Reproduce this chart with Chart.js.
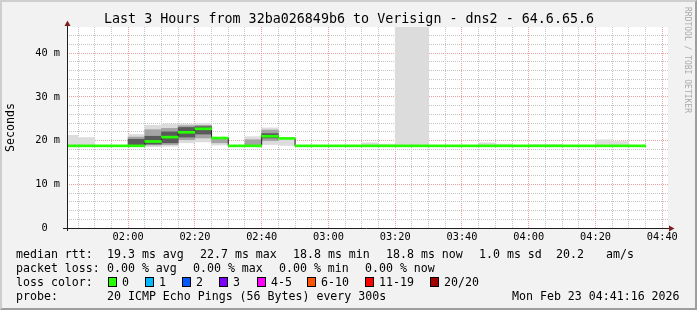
<!DOCTYPE html>
<html>
<head>
<meta charset="utf-8">
<script src="https://cdn.jsdelivr.net/npm/chart.js@4.4.1/dist/chart.umd.min.js"></script>
<style>
  html, body { margin: 0; padding: 0; }
  body {
    width: 697px; height: 310px; position: relative; overflow: hidden;
    background: #f2f2f2; color: #000;
    font-family: 'DejaVu Sans Mono', monospace;
  }
  #chart { position: absolute; left: 0; top: 0; }
  .shade {
    position: absolute; left: 0; top: 0; width: 697px; height: 310px; box-sizing: border-box;
    border-left: 2px solid #cecece; border-top: 2px solid #cecece;
    border-right: 2px solid #9e9e9e; border-bottom: 2px solid #9e9e9e;
    pointer-events: none;
  }
  .title { position: absolute; left: 104px; top: 10.7px; font-size: 13.35px; line-height: 16px; white-space: pre; }
  .mark {
    position: absolute; left: 682px; top: 7px; font-size: 8px; line-height: 10px;
    writing-mode: vertical-rl; color: #ababab; white-space: pre;
  }
  .t { position: absolute; font-size: 11.6px; line-height: 14px; white-space: pre; }
  .r1 { top: 246.5px; } .r2 { top: 260.7px; } .r3 { top: 274.8px; } .r4 { top: 289px; }
  .box { position: absolute; top: 277px; width: 9px; height: 10px; box-sizing: border-box; border: 1px solid #000; }
</style>
</head>
<body>
<canvas id="chart" width="697" height="310"></canvas>
<div class="title">Last 3 Hours from 32ba026849b6 to Verisign - dns2 - 64.6.65.6</div>
<div class="mark">RRDTOOL / TOBI OETIKER</div>

<div class="t r1" style="left:16px">median rtt:</div>
<div class="t r1" style="left:107px">19.3 ms avg</div>
<div class="t r1" style="left:200px">22.7 ms max</div>
<div class="t r1" style="left:293px">18.8 ms min</div>
<div class="t r1" style="left:386px">18.8 ms now</div>
<div class="t r1" style="left:479px">1.0 ms sd</div>
<div class="t r1" style="left:556px">20.2</div>
<div class="t r1" style="left:606px">am/s</div>

<div class="t r2" style="left:16px">packet loss:</div>
<div class="t r2" style="left:107px">0.00 % avg</div>
<div class="t r2" style="left:193px">0.00 % max</div>
<div class="t r2" style="left:279px">0.00 % min</div>
<div class="t r2" style="left:365px">0.00 % now</div>

<div class="t r3" style="left:16px">loss color:</div>
<div id="lossLegend"></div>

<div class="t r4" style="left:16px">probe:</div>
<div class="t r4" style="left:107px">20 ICMP Echo Pings (56 Bytes) every 300s</div>
<div class="t r4" style="left:512px">Mon Feb 23 04:41:16 2026</div>
<div class="shade"></div>

<script>
// 5 minute bins, start time of each bin
const binTimes = ['01:40','01:45','01:50','01:55','02:00','02:05','02:10','02:15','02:20','02:25',
                  '02:30','02:35','02:40','02:45','02:50','02:55','03:00','03:05','03:10','03:15',
                  '03:20','03:25','03:30','03:35','03:40','03:45','03:50','03:55','04:00','04:05',
                  '04:10','04:15','04:20','04:25','04:30'];

// median rtt in ms
const medianRtt = [18.8, 18.8, 18.8, 18.8, 18.8, 19.8, 20.8, 21.9, 22.7, 20.6,
                   18.8, 18.8, 21.0, 20.5, 18.8, 18.8, 18.8, 18.8, 18.8, 18.8,
                   18.8, 18.8, 18.8, 18.8, 18.8, 18.8, 18.8, 18.8, 18.8, 18.8,
                   18.8, 18.8, 18.8, 18.8, 18.8];

// smoke: spread of the 20 pings (outer = all, mid, inner = closest to median)
const smokeOuter = [[18.8, 21.2], [18.8, 20.7], null, null, [18.8, 21.4], [18.6, 23.5], [18.7, 23.8], [19.5, 23.8], [19.7, 23.9], [19.0, 20.7],
                    null, [18.8, 20.9], [19.1, 22.9], [18.9, 20.5], null, null, null, null, [18.8, 19.5], [18.8, 19.2],
                    [18.8, 46], [18.8, 46], null, null, null, [18.8, 19.5], [18.8, 19.2], null, [18.8, 19.1], [18.8, 19.1],
                    null, null, [18.8, 20.2], [18.8, 19.8], null];
const smokeMid = [null, null, null, null, [18.9, 20.8], [19.0, 22.5], [19.1, 22.8], [20.2, 23.4], [20.6, 23.5], [19.5, 20.6],
                  null, [18.9, 20.2], [20.0, 22.4], null];
const smokeInner = [null, null, null, null, [19.0, 20.3], [19.2, 21.0], [19.5, 22.0], [20.8, 23.0], [21.5, 23.2], null,
                    null, null, [20.6, 21.6], null];

// axis
const timeTicks = ['02:00','02:20','02:40','03:00','03:20','03:40','04:00','04:20','04:40'];
const rttTicks = [0, 10, 20, 30, 40];
const viewStart = 101.7;  // 01:41:43
const viewEnd = 281.7;    // 04:41:43

// loss legend
const lossLabels = ['0', '1', '2', '3', '4-5', '6-10', '11-19', '20/20'];
const lossColors = ['#26ff00', '#00b8ff', '#0059ff', '#7e00ff', '#ff00ff', '#ff5500', '#ff0000', '#a10000'];
const lossBoxX = [108, 145, 182, 219, 257, 307, 365, 430];

const toMin = s => { const [h, m] = s.split(':').map(Number); return h * 60 + m; };
const fmtMin = v => String(Math.floor(v / 60)).padStart(2, '0') + ':' + String(v % 60).padStart(2, '0');

const lossLegend = document.getElementById('lossLegend');
lossLabels.forEach((lbl, i) => {
    const b = document.createElement('div');
    b.className = 'box';
    b.style.left = lossBoxX[i] + 'px';
    b.style.background = lossColors[i];
    lossLegend.appendChild(b);
    const t = document.createElement('div');
    t.className = 't r3';
    t.style.left = (lossBoxX[i] + 14) + 'px';
    t.textContent = lbl;
    lossLegend.appendChild(t);
});

const binMid = binTimes.map(t => toMin(t) + 2.5);
const asBars = arr => binMid.map((x, i) => ({ x, y: arr[i] || null }));

const stepLine = binTimes.map((t, i) => ({ x: toMin(t), y: medianRtt[i] }));
stepLine.push({ x: toMin(binTimes[binTimes.length - 1]) + 5, y: medianRtt[medianRtt.length - 1] });

const barOpts = { type: 'bar', barPercentage: 1, categoryPercentage: 1, grouped: false, borderWidth: 0 };

const plotFrame = {
    id: 'plotFrame',
    beforeDraw(chart) {
        const { ctx, chartArea: a } = chart;
        ctx.save();
        ctx.fillStyle = '#ffffff';
        ctx.fillRect(a.left, a.top, a.right - a.left, a.bottom - a.top);
        ctx.restore();
    },
    afterDraw(chart) {
        const { ctx, chartArea: a } = chart;
        const x0 = a.left + 0.5, y0 = a.bottom + 0.5;
        ctx.save();
        ctx.strokeStyle = '#1f1f1f';
        ctx.lineWidth = 1;
        ctx.beginPath();
        ctx.moveTo(x0, a.bottom + 3); ctx.lineTo(x0, a.top - 3);
        ctx.moveTo(a.left - 4, y0); ctx.lineTo(a.right + 2, y0);
        ctx.stroke();
        ctx.fillStyle = '#7f1f1f';
        ctx.beginPath();
        ctx.moveTo(x0 - 3, a.top - 1); ctx.lineTo(x0 + 3, a.top - 1); ctx.lineTo(x0, a.top - 6.5);
        ctx.closePath(); ctx.fill();
        ctx.beginPath();
        ctx.moveTo(a.right + 1, y0 - 3); ctx.lineTo(a.right + 1, y0 + 3); ctx.lineTo(a.right + 6.5, y0);
        ctx.closePath(); ctx.fill();
        ctx.restore();
    }
};

const gridColor = (major, minor, step) => c => (c.tick && c.tick.value % step === 0) ? major : minor;

new Chart(document.getElementById('chart'), {
    type: 'bar',
    data: {
        datasets: [
            { ...barOpts, data: binMid.map((x, i) => ({ x, y: [medianRtt[i] - 0.23, medianRtt[i] + 0.23] })), backgroundColor: '#26ff00', order: 0 },
            { type: 'line', data: stepLine, stepped: 'before', borderColor: '#1f1f1f', borderWidth: 1, pointRadius: 0, order: 1 },
            { ...barOpts, data: asBars(smokeInner), backgroundColor: '#5a5a5a', order: 2 },
            { ...barOpts, data: asBars(smokeMid), backgroundColor: '#a4a4a4', order: 3 },
            { ...barOpts, data: asBars(smokeOuter), backgroundColor: '#dcdcdc', order: 4 }
        ]
    },
    options: {
        responsive: false,
        animation: false,
        events: [],
        layout: { padding: { left: 0, top: 27, right: 29, bottom: 0 } },
        plugins: { legend: { display: false }, tooltip: { enabled: false } },
        scales: {
            x: {
                type: 'linear',
                min: viewStart,
                max: viewEnd,
                offset: false,
                z: 1,
                afterBuildTicks: s => {
                    const t = [];
                    for (let v = 105; v < viewEnd; v += 5) t.push({ value: v });
                    s.ticks = t;
                },
                afterFit: s => { s.height = 82; },
                grid: {
                    offset: false,
                    drawTicks: false,
                    lineWidth: 1,
                    color: gridColor('#eda0a0', '#c4c4c4', 20)
                },
                border: { display: false, dash: [1, 1] },
                ticks: {
                    autoSkip: false,
                    maxRotation: 0,
                    padding: 3,
                    color: '#000',
                    font: { family: 'DejaVu Sans Mono', size: 10.3 },
                    callback: v => timeTicks.includes(fmtMin(v)) ? fmtMin(v) : ''
                }
            },
            y: {
                type: 'linear',
                min: 0,
                max: 46,
                z: 1,
                afterBuildTicks: s => {
                    const t = [];
                    for (let v = 0; v <= 44; v += 2) t.push({ value: v });
                    s.ticks = t;
                },
                afterFit: s => { s.width = 67; },
                grid: {
                    drawTicks: false,
                    lineWidth: 1,
                    color: gridColor('#eda0a0', '#c4c4c4', 10)
                },
                border: { display: false, dash: [1, 1] },
                title: {
                    display: true,
                    text: 'Seconds',
                    color: '#000',
                    padding: { top: 4, bottom: 0 },
                    font: { family: 'DejaVu Sans Mono', size: 11.6 }
                },
                ticks: {
                    autoSkip: false,
                    padding: 7,
                    color: '#000',
                    font: { family: 'DejaVu Sans Mono', size: 10.3 },
                    callback: v => rttTicks.includes(v) ? (v === 0 ? '0  ' : v + ' m') : ''
                }
            }
        }
    },
    plugins: [plotFrame]
});
</script>
</body>
</html>
